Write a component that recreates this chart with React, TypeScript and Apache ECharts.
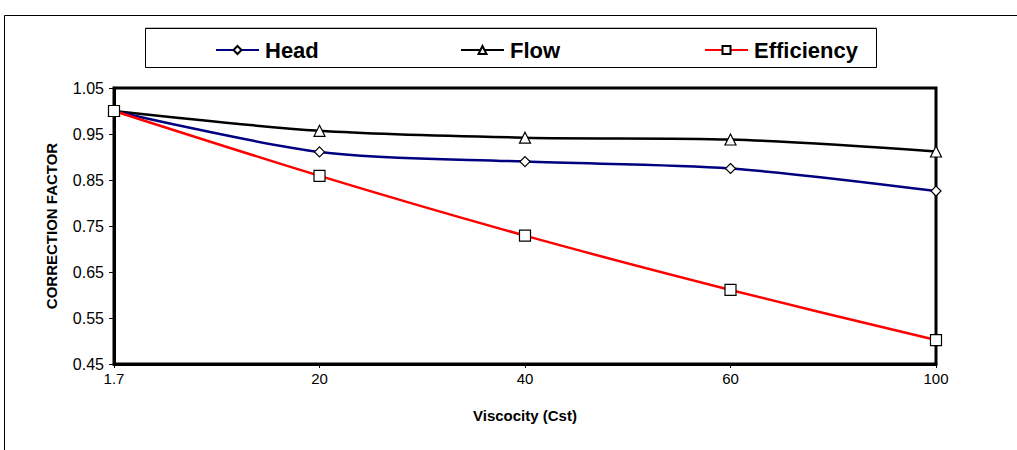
import React, { useEffect, useRef } from "react";
import * as echarts from "echarts";

const categories = ["1.7", "20", "40", "60", "100"];
const headValues = [1.0, 0.911, 0.89, 0.875, 0.826];
const flowValues = [1.0, 0.957, 0.942, 0.938, 0.912];
const efficiencyValues = [1.0, 0.859, 0.729, 0.611, 0.502];
const seriesNames = ["Head", "Flow", "Efficiency"];

export default function App() {
  const ref = useRef<HTMLDivElement>(null);
  useEffect(() => {
    if (!ref.current) return;
    const chart = echarts.init(ref.current, undefined, { renderer: "svg" });
    const markerStyle = { color: "#ffffff", borderColor: "#000000", borderWidth: 1.2 };
    const legendBase = {
      top: 34,
      itemWidth: 43,
      itemHeight: 10,
      itemGap: 0,
      textStyle: {
        fontFamily: "Liberation Sans, Arial",
        fontWeight: "bold",
        fontSize: 22,
        color: "#000",
        padding: [4, 0, 0, 1],
      },
      selectedMode: false,
    };
    chart.setOption({
      animation: false,
      backgroundColor: "#ffffff",
      graphic: [
        {
          type: "rect",
          shape: { x: 4.5, y: 15.5, width: 1100, height: 500 },
          style: { fill: "none", stroke: "#000", lineWidth: 1 },
          silent: true,
          z: -1,
        },
        {
          type: "rect",
          shape: { x: 145.5, y: 28.5, width: 731, height: 39 },
          style: { fill: "#fff", stroke: "#000", lineWidth: 1, shadowColor: "rgba(0,0,0,0.25)", shadowOffsetY: -1, shadowBlur: 0 },
          silent: true,
          z: -1,
        },
      ],
      legend: [
        { ...legendBase, left: 210, data: [seriesNames[0]] },
        { ...legendBase, left: 455, data: [seriesNames[1]] },
        { ...legendBase, left: 699, data: [seriesNames[2]] },
      ],
      grid: {
        left: 114,
        right: 81,
        top: 88,
        bottom: 86,
        show: true,
        borderColor: "#000",
        borderWidth: 3,
        backgroundColor: "#fff",
      },
      xAxis: {
        type: "category",
        data: categories,
        boundaryGap: false,
        name: "Viscocity (Cst)",
        nameLocation: "middle",
        nameGap: 44,
        nameTextStyle: { fontFamily: "Liberation Sans, Arial", fontWeight: "bold", fontSize: 15, color: "#000" },
        axisLine: { lineStyle: { color: "#000", width: 3 } },
        axisTick: { show: true, length: 4, lineStyle: { color: "#000" } },
        axisLabel: { fontFamily: "Liberation Sans, Arial", fontSize: 15, color: "#000", margin: 7 },
        splitLine: { show: false },
      },
      yAxis: {
        type: "value",
        min: 0.45,
        max: 1.05,
        interval: 0.1,
        name: "CORRECTION FACTOR",
        nameLocation: "middle",
        nameGap: 55,
        nameRotate: 90,
        nameTextStyle: { fontFamily: "Liberation Sans, Arial", fontWeight: "bold", fontSize: 15, color: "#000" },
        axisLine: { show: true, lineStyle: { color: "#000", width: 3 } },
        axisTick: { show: true, length: 5, lineStyle: { color: "#000" } },
        axisLabel: {
          fontFamily: "Liberation Sans, Arial",
          fontSize: 16,
          color: "#000",
          margin: 10,
          formatter: (v: number) => v.toFixed(2),
        },
        splitLine: { show: false },
      },
      series: [
        {
          name: seriesNames[0],
          type: "line",
          data: headValues,
          smooth: 0.3,
          symbol: "diamond",
          symbolSize: 10,
          lineStyle: { color: "#000080", width: 2.5 },
          itemStyle: markerStyle,
          color: "#000080",
          z: 3,
        },
        {
          name: seriesNames[1],
          type: "line",
          data: flowValues,
          smooth: 0.3,
          symbol: "triangle",
          symbolSize: 11,
          lineStyle: { color: "#000000", width: 2.5 },
          itemStyle: markerStyle,
          color: "#000000",
          z: 2,
        },
        {
          name: seriesNames[2],
          type: "line",
          data: efficiencyValues,
          smooth: 0.3,
          symbol: "rect",
          symbolSize: 11,
          lineStyle: { color: "#ff0000", width: 2.5 },
          itemStyle: markerStyle,
          color: "#ff0000",
          z: 4,
        },
      ],
    });
    return () => chart.dispose();
  }, []);
  return (
    <div
      ref={ref}
      style={{ position: "fixed", left: 0, top: 0, width: 1017, height: 450 }}
    />
  );
}
